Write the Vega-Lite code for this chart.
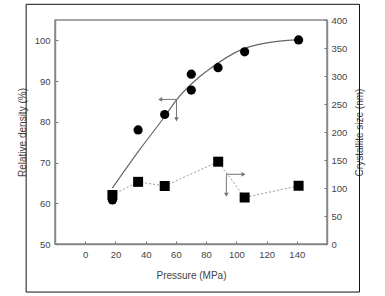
{
  "$schema": "https://vega.github.io/schema/vega-lite/v6.json",
  "width": 272,
  "height": 224,
  "autosize": {"type": "none"},
  "padding": {"left": 55, "top": 20, "right": 58, "bottom": 52},
  "background": "white",
  "config": {
    "view": {"stroke": "#888", "strokeWidth": 1.5},
    "axis": {
      "grid": false,
      "labelFont": "Liberation Sans",
      "labelFontSize": 9.5,
      "labelColor": "#444",
      "labelOverlap": false,
      "tickCount": 20,
      "titleFont": "Liberation Sans",
      "titleFontSize": 10,
      "titleFontWeight": "normal",
      "titleColor": "#444",
      "domainColor": "#888",
      "domainWidth": 1.5,
      "tickColor": "#777",
      "tickSize": -3,
      "tickWidth": 1
    }
  },
  "datasets": {
    "density": [
      {"p": 18, "d": 60.8},
      {"p": 35, "d": 78.0},
      {"p": 52.6, "d": 81.8},
      {"p": 70.2, "d": 91.7},
      {"p": 70.2, "d": 87.8},
      {"p": 87.9, "d": 93.3},
      {"p": 105.5, "d": 97.2},
      {"p": 141.2, "d": 100.1}
    ],
    "fit": [
      {"p": 17.9, "d": 63.7},
      {"p": 35.9, "d": 73.1},
      {"p": 52.6, "d": 81.3},
      {"p": 60.4, "d": 85.4},
      {"p": 75.1, "d": 90.9},
      {"p": 81, "d": 92.6},
      {"p": 104.5, "d": 97.9},
      {"p": 126, "d": 99.7},
      {"p": 140.8, "d": 100.1}
    ],
    "size": [
      {"p": 18, "s": 87.5},
      {"p": 35, "s": 111},
      {"p": 52.6, "s": 103.6},
      {"p": 88, "s": 147},
      {"p": 105.5, "s": 83},
      {"p": 141.2, "s": 104}
    ]
  },
  "layer": [
    {
      "layer": [
        {
          "data": {"values": [{}]},
          "mark": {"type": "rect", "fill": "transparent", "stroke": "#111", "strokeWidth": 1, "clip": false},
          "encoding": {
            "x": {"datum": -39.1, "type": "quantitative", "scale": {"domain": [-10, 150]},
              "axis": {"values": [0, 20, 40, 60, 80, 100, 120, 140], "tickCount": 20, "title": "Pressure (MPa)", "labelPadding": 8, "titlePadding": 12}},
            "x2": {"datum": 181.5},
            "y": {"datum": 108.85, "type": "quantitative", "scale": {"domain": [50, 105]},
              "axis": {"values": [50, 60, 70, 80, 90, 100], "tickCount": 20, "title": "Relative density (%)", "labelPadding": 8, "titlePadding": 7}},
            "y2": {"datum": 38.2}
          }
        },
        {
          "data": {"name": "fit"},
          "mark": {"type": "line", "color": "#666", "strokeWidth": 1.2, "interpolate": "monotone"},
          "encoding": {
            "x": {"field": "p", "type": "quantitative"},
            "y": {"field": "d", "type": "quantitative"}
          }
        },
        {
          "data": {"name": "density"},
          "mark": {"type": "point", "shape": "circle", "filled": true, "color": "#000", "size": 85, "opacity": 1},
          "encoding": {
            "x": {"field": "p", "type": "quantitative"},
            "y": {"field": "d", "type": "quantitative"}
          }
        },
        {
          "data": {"values": [{"x1": 49.6, "x2": 60.4, "y1": 85.5, "y2": 85.5}, {"x1": 60.4, "x2": 60.4, "y1": 85.5, "y2": 80.9}]},
          "mark": {"type": "rule", "color": "#777", "strokeWidth": 1},
          "encoding": {
            "x": {"field": "x1", "type": "quantitative"},
            "x2": {"field": "x2"},
            "y": {"field": "y1", "type": "quantitative"},
            "y2": {"field": "y2"}
          }
        },
        {
          "data": {"values": [{"x": 49.6, "y": 85.5, "shape": "triangle-left"}, {"x": 60.4, "y": 80.6, "shape": "triangle-down"}]},
          "mark": {"type": "point", "filled": true, "color": "#777", "size": 22, "opacity": 1},
          "encoding": {
            "x": {"field": "x", "type": "quantitative"},
            "y": {"field": "y", "type": "quantitative"},
            "shape": {"field": "shape", "type": "nominal", "scale": null, "legend": null}
          }
        }
      ]
    },
    {
      "layer": [
        {
          "data": {"name": "size"},
          "mark": {"type": "line", "color": "#999", "strokeWidth": 1, "strokeDash": [2, 2]},
          "encoding": {
            "x": {"field": "p", "type": "quantitative", "axis": {"values": [0, 20, 40, 60, 80, 100, 120, 140], "tickCount": 20, "labelPadding": 8, "titlePadding": 12, "title": "Pressure (MPa)"}},
            "y": {"field": "s", "type": "quantitative", "scale": {"domain": [0, 400]},
              "axis": {"orient": "right", "values": [0, 50, 100, 150, 200, 250, 300, 350, 400], "tickCount": 20, "title": "Crystallite size (nm)", "titleAngle": 270, "labelPadding": 7, "titlePadding": 18}}
          }
        },
        {
          "data": {"name": "size"},
          "mark": {"type": "point", "shape": "square", "filled": true, "color": "#000", "size": 100, "opacity": 1},
          "encoding": {
            "x": {"field": "p", "type": "quantitative"},
            "y": {"field": "s", "type": "quantitative"}
          }
        },
        {
          "data": {"values": [{"x1": 93.4, "x2": 104.6, "y1": 124.5, "y2": 124.5}, {"x1": 93.4, "x2": 93.4, "y1": 124.5, "y2": 89}]},
          "mark": {"type": "rule", "color": "#777", "strokeWidth": 1},
          "encoding": {
            "x": {"field": "x1", "type": "quantitative"},
            "x2": {"field": "x2"},
            "y": {"field": "y1", "type": "quantitative"},
            "y2": {"field": "y2"}
          }
        },
        {
          "data": {"values": [{"x": 104.8, "y": 124.5, "shape": "triangle-right"}, {"x": 93.4, "y": 88, "shape": "triangle-down"}]},
          "mark": {"type": "point", "filled": true, "color": "#777", "size": 22, "opacity": 1},
          "encoding": {
            "x": {"field": "x", "type": "quantitative"},
            "y": {"field": "y", "type": "quantitative"},
            "shape": {"field": "shape", "type": "nominal", "scale": null, "legend": null}
          }
        }
      ]
    }
  ],
  "resolve": {"scale": {"y": "independent"}}
}
